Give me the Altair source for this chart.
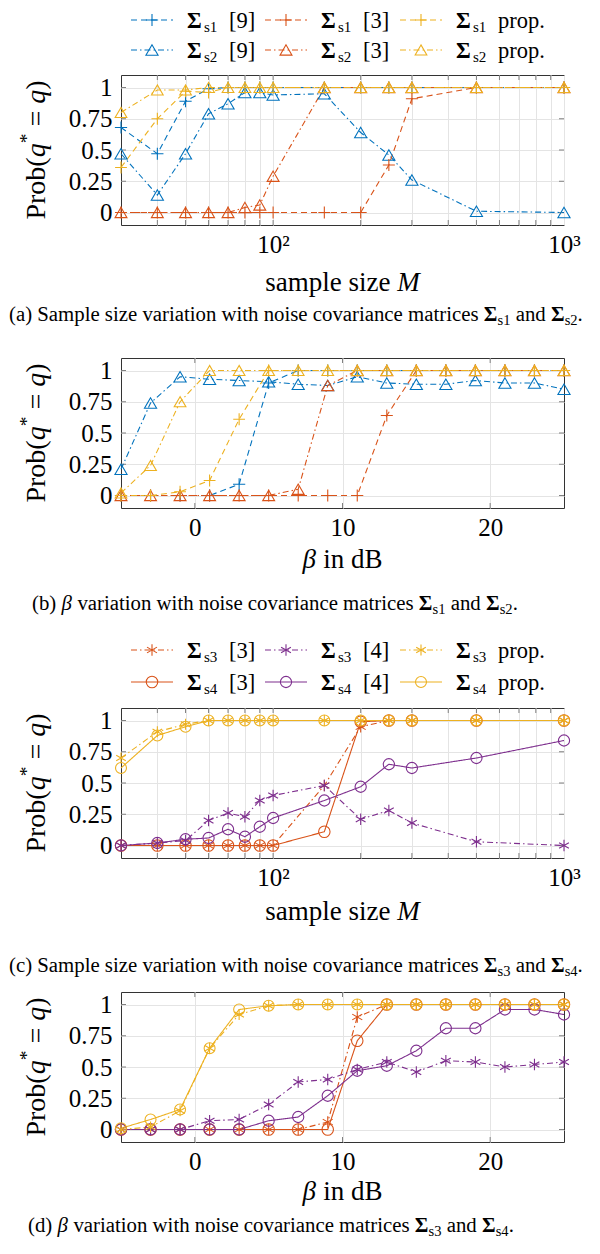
import altair as alt
import pandas as pd

# ---------------- data ----------------
M = [30, 40, 50, 60, 70, 80, 90, 100, 150, 200, 250, 300, 500, 1000]
BETA = [-5, -3, -1, 1, 3, 5, 7, 9, 11, 13, 15, 17, 19, 21, 23, 25]

A_S1_9 = [0.68, 0.47, 0.89, 0.99, 1, 1, 1, 1, 1, 1, 1, 1, 1, 1]
A_S2_9 = [0.47, 0.14, 0.47, 0.79, 0.87, 0.96, 0.96, 0.94, 0.95, 0.64, 0.46, 0.26, 0.01, 0.0]
A_S1_3 = [0, 0, 0, 0, 0, 0, 0, 0, 0, 0, 0.38, 0.91, 1, 1]
A_S2_3 = [0, 0, 0, 0, 0, 0.04, 0.06, 0.29, 1, 1, 1, 1, 1, 1]
A_S1_P = [0.36, 0.75, 0.97, 0.96, 1, 1, 1, 1, 1, 1, 1, 1, 1, 1]
A_S2_P = [0.80, 0.98, 0.98, 1, 1, 1, 1, 1, 1, 1, 1, 1, 1, 1]

B_S1_9 = [0, 0, 0, 0, 0.09, 0.90, 1, 1, 1, 1, 1, 1, 1, 1, 1, 1]
B_S2_9 = [0.21, 0.74, 0.95, 0.93, 0.92, 0.91, 0.89, 0.88, 0.95, 0.90, 0.89, 0.89, 0.92, 0.90, 0.90, 0.85]
B_S1_3 = [0, 0, 0, 0, 0, 0, 0, 0, 0, 0.64, 1, 1, 1, 1, 1, 1]
B_S2_3 = [0, 0, 0, 0, 0, 0, 0.05, 0.88, 1, 1, 1, 1, 1, 1, 1, 1]
B_S1_P = [0.0, 0.0, 0.03, 0.12, 0.61, 1, 1, 1, 1, 1, 1, 1, 1, 1, 1, 1]
B_S2_P = [0.02, 0.24, 0.75, 1, 1, 1, 1, 1, 1, 1, 1, 1, 1, 1, 1, 1]

C_S3_3 = [0, 0, 0, 0, 0, 0, 0, 0, 0.48, 0.95, 1, 1, 1, 1]
C_S4_3 = [0, 0, 0, 0, 0, 0, 0, 0, 0.11, 0.99, 1, 1, 1, 1]
C_S3_4 = [0, 0.02, 0.04, 0.20, 0.26, 0.23, 0.36, 0.40, 0.48, 0.21, 0.28, 0.18, 0.03, 0.0]
C_S4_4 = [0, 0.02, 0.05, 0.06, 0.13, 0.07, 0.15, 0.22, 0.36, 0.47, 0.65, 0.62, 0.70, 0.84]
C_S3_P = [0.70, 0.91, 0.97, 1, 1, 1, 1, 1, 1, 1, 1, 1, 1, 1]
C_S4_P = [0.62, 0.88, 0.95, 1, 1, 1, 1, 1, 1, 1, 1, 1, 1, 1]

D_S3_3 = [0, 0, 0, 0, 0, 0, 0, 0.06, 0.90, 1, 1, 1, 1, 1, 1, 1]
D_S4_3 = [0, 0, 0, 0, 0, 0, 0, 0, 0.71, 1, 1, 1, 1, 1, 1, 1]
D_S3_4 = [0, 0, 0, 0.07, 0.08, 0.20, 0.38, 0.40, 0.48, 0.54, 0.46, 0.55, 0.54, 0.50, 0.52, 0.54]
D_S4_4 = [0, 0, 0, 0, 0, 0.07, 0.10, 0.27, 0.47, 0.51, 0.63, 0.81, 0.81, 0.96, 0.96, 0.92]
D_S3_P = [0.0, 0.02, 0.15, 0.65, 0.92, 0.99, 1, 1, 1, 1, 1, 1, 1, 1, 1, 1]
D_S4_P = [0.01, 0.08, 0.16, 0.65, 0.96, 0.99, 1, 1, 1, 1, 1, 1, 1, 1, 1, 1]

Y_TICKS = [0, 0.25, 0.5, 0.75, 1]
LOG_GRID = [40, 50, 60, 70, 80, 90, 100, 200, 300, 400, 500, 600, 700, 800, 900, 1000]
LIN_GRID = [0, 10, 20]

# ---------------- styles ----------------
FONT = "Liberation Serif"
BLUE, RED, YEL, PUR = "#0072BD", "#D95319", "#EDB120", "#7E2F8E"
PLUS = "M-1,0L1,0M0,-1L0,1"
AST = "M0,-1L0,1M-0.866,-0.5L0.866,0.5M-0.866,0.5L0.866,-0.5"
TRI = "triangle-up"
CIRC = "circle"
DASH = [6, 4]
DDOT = [6, 3, 1.5, 3]
SOLID = [1, 0]

IDS = ["s1_9", "s2_9", "s1_3", "s2_3", "s1_p", "s2_p",
       "s3_3", "s4_3", "s3_4", "s4_4", "s3_p", "s4_p"]
COLS = [BLUE, BLUE, RED, RED, YEL, YEL, RED, RED, PUR, PUR, YEL, YEL]
DASHES = [DASH, DDOT, DASH, DDOT, DASH, DDOT, DDOT, SOLID, DDOT, SOLID, DDOT, SOLID]
SHAPES = [PLUS, TRI, PLUS, TRI, PLUS, TRI, AST, CIRC, AST, CIRC, AST, CIRC]
SIZES = [150, 120, 150, 120, 150, 120, 140, 200, 140, 200, 140, 200]

C_ENC = alt.Color("sid:N", scale=alt.Scale(domain=IDS, range=COLS), legend=None)
D_ENC = alt.StrokeDash("sid:N", scale=alt.Scale(domain=IDS, range=DASHES), legend=None)
S_ENC = alt.Shape("sid:N", scale=alt.Scale(domain=IDS, range=SHAPES), legend=None)
Z_ENC = alt.Size("sid:N", scale=alt.Scale(domain=IDS, range=SIZES), legend=None)

W, H = 443, 150
LEFT, RIGHT = -112, 466

# Times-metric widths (per 1000 em) for placing rich-text runs
TNR = {' ': 250, '(': 333, ')': 333, '[': 333, ']': 333, '.': 250, '=': 564, '*': 500,
       'a': 444, 'b': 500, 'c': 444, 'd': 500, 'e': 444, 'f': 333, 'g': 500, 'h': 500,
       'i': 278, 'k': 500, 'l': 278, 'm': 778, 'n': 500, 'o': 500, 'p': 500, 'q': 500,
       'r': 333, 's': 389, 't': 278, 'u': 500, 'v': 500, 'w': 722, 'x': 500, 'y': 500,
       'z': 444, 'B': 667, 'M': 889, 'P': 556, 'S': 556, 'Σ': 600, 'β': 500}
ITAL = {'M': 833, 'q': 500, 'β': 520}


def tw(txt, st):
    tot = 0
    for ch in txt:
        if st == "b" and ch == "Σ":
            tot += 660
        elif st == "i":
            tot += ITAL.get(ch, TNR.get(ch, 500))
        else:
            tot += TNR.get(ch, 500)
    return tot / 1000.0


def run(segs, x0, base, fs):
    out, x = [], x0
    for txt, st, rs, dy in segs:
        f = fs * rs
        lead = len(txt) - len(txt.lstrip(" "))
        out.append(dict(px=x + lead * 0.25 * f, py=base + dy * fs, txt=txt.strip(" "), fs=f, st=st))
        x += tw(txt, st) * f
    return out


def run_width(segs, fs):
    return sum(tw(t, st) * fs * rs for t, st, rs, dy in segs)


def sig(k):
    return [("Σ", "b", 1, 0), ("s%d" % k, "n", 0.7, 0.2)]


CAP_FS = 20.8
CAP_A = [("(a) Sample size variation with noise covariance matrices ", "n", 1, 0)] + sig(1) + \
        [(" and ", "n", 1, 0)] + sig(2) + [(".", "n", 1, 0)]
CAP_B = [("(b) ", "n", 1, 0), ("β", "i", 1, 0),
         (" variation with noise covariance matrices ", "n", 1, 0)] + sig(1) + \
        [(" and ", "n", 1, 0)] + sig(2) + [(".", "n", 1, 0)]
CAP_C = [("(c) Sample size variation with noise covariance matrices ", "n", 1, 0)] + sig(3) + \
        [(" and ", "n", 1, 0)] + sig(4) + [(".", "n", 1, 0)]
CAP_D = [("(d) ", "n", 1, 0), ("β", "i", 1, 0),
         (" variation with noise covariance matrices ", "n", 1, 0)] + sig(3) + \
        [(" and ", "n", 1, 0)] + sig(4) + [(".", "n", 1, 0)]

XT_LOG = [("sample size ", "n", 1, 0), ("M", "i", 1, 0)]
XT_LIN = [("β", "i", 1, 0), (" in dB", "n", 1, 0)]
YT = [("Prob(", "n", 1, 0), ("q", "i", 1, 0), ("*", "n", 0.7, -0.42), (" = ", "n", 1, 0),
      ("q", "i", 1, 0), (")", "n", 1, 0)]
XT_FS = 27
YT_FS = 28

LEG_FS = 22.5
LEG_X = [10, 144, 279]
LEG_AB = [[("s1_9", 1, "[9]"), ("s1_3", 1, "[3]"), ("s1_p", 1, "prop.")],
          [("s2_9", 2, "[9]"), ("s2_3", 2, "[3]"), ("s2_p", 2, "prop.")]]
LEG_CD = [[("s3_3", 3, "[3]"), ("s3_4", 3, "[4]"), ("s3_p", 3, "prop.")],
          [("s4_3", 4, "[3]"), ("s4_4", 4, "[4]"), ("s4_p", 4, "prop.")]]


def panel(xv, series, log, legend, leg_rows, cap, cap_x0, cap_base, xt_base, top, bottom):
    df = pd.DataFrame([dict(x=x, y=y, sid=sid) for sid, ys in series for x, y in zip(xv, ys)])
    if log:
        xs = alt.Scale(type="log", domain=[30, 1000], nice=False)
        xax = alt.Axis(values=LOG_GRID, title=None, labelFlush=False, labelOverlap=False,
                       labelExpr="datum.value == 100 ? '10²' : (datum.value == 1000 ? '10³' : '')")
        xt_vals = LOG_GRID[:-1]
        xt = XT_LOG
    else:
        xs = alt.Scale(domain=[-5, 25], nice=False, zero=False)
        xax = alt.Axis(values=LIN_GRID, title=None, labelFlush=False)
        xt_vals = LIN_GRID
        xt = XT_LIN
    ys = alt.Scale(domain=[-0.1, 1.1], nice=False, zero=False)
    yax = alt.Axis(values=Y_TICKS, title=None, labelExpr="'' + datum.value")
    X = alt.X("x:Q", scale=xs, axis=xax)
    Y = alt.Y("y:Q", scale=ys, axis=yax)

    xtk = pd.DataFrame({"x": xt_vals})
    ytk = pd.DataFrame({"y": Y_TICKS})
    tick_col = "#808080"
    tk = [
        alt.Chart(xtk).mark_rule(color=tick_col, strokeWidth=1).encode(x=X, y=alt.value(H), y2=alt.value(H - 5)),
        alt.Chart(xtk).mark_rule(color=tick_col, strokeWidth=1).encode(x=X, y=alt.value(0), y2=alt.value(5)),
        alt.Chart(ytk).mark_rule(color=tick_col, strokeWidth=1).encode(y=Y, x=alt.value(0), x2=alt.value(5)),
        alt.Chart(ytk).mark_rule(color=tick_col, strokeWidth=1).encode(y=Y, x=alt.value(W), x2=alt.value(W - 5)),
    ]
    lines = alt.Chart(df).mark_line(strokeWidth=1.1).encode(
        x=X, y=Y, color=C_ENC, strokeDash=D_ENC, detail="sid:N")
    pts = alt.Chart(df).mark_point(filled=False, strokeWidth=1.1, opacity=1).encode(
        x=X, y=Y, color=C_ENC, shape=S_ENC, size=Z_ENC)
    data = alt.layer(*tk, lines, pts)

    # ---- decorations: legend, titles, caption (pixel positions) ----
    texts = []
    lrules, lpts = [], []
    if legend is not None:
        for r, row in enumerate(legend):
            cy = leg_rows[r]
            base = cy + 7.5
            for c, (sid, k, lab) in enumerate(row):
                sx = LEG_X[c]
                lrules.append(dict(px=sx, px2=sx + 42, py=cy, sid=sid))
                lpts.append(dict(px=sx + 21, py=cy, sid=sid))
                texts += run([("Σ", "b", 1, 0)], sx + 56, base, LEG_FS)
                texts += run([("s%d" % k, "n", 0.67, 0.18)], sx + 73, base, LEG_FS)
                texts += run([(lab, "n", 1, 0)], sx + 98, base, LEG_FS)
    texts += run(cap, cap_x0, cap_base, CAP_FS)
    xw = run_width(xt, XT_FS)
    texts += run(xt, W / 2 - xw / 2, xt_base, XT_FS)

    # rotated y title (reads bottom to top)
    yw = run_width(YT, YT_FS)
    rot, t = [], 0.0
    ybase_x = -76
    for txt, st, rs, dy in YT:
        f = YT_FS * rs
        lead = len(txt) - len(txt.lstrip(" "))
        rot.append(dict(px=ybase_x + dy * YT_FS, py=H / 2 + yw / 2 - t - lead * 0.25 * f,
                        txt=txt.strip(" "), fs=f, st=st))
        t += tw(txt, st) * f

    tdf = pd.DataFrame(texts)
    rdf = pd.DataFrame(rot)
    PX = alt.X("px:Q", scale=None, axis=None)
    PY = alt.Y("py:Q", scale=None, axis=None)
    FS = alt.Size("fs:Q", scale=None, legend=None)

    def tl(d, **kw):
        return alt.Chart(d).mark_text(font=FONT, align="left", baseline="alphabetic",
                                      color="black", **kw).encode(
            x=PX, y=PY, text="txt:N", size=FS)

    deco = [
        alt.Chart(pd.DataFrame([dict(px=LEFT, px2=RIGHT, py=top), dict(px=LEFT, px2=RIGHT, py=bottom)]))
        .mark_rule(strokeOpacity=0, strokeWidth=1).encode(x=PX, x2="px2:Q", y=PY),
        tl(tdf[tdf.st == "n"]),
        tl(tdf[tdf.st == "b"], fontWeight="bold"),
        tl(tdf[tdf.st == "i"], fontStyle="italic"),
        tl(rdf[rdf.st == "n"], angle=270),
        tl(rdf[rdf.st == "i"], angle=270, fontStyle="italic"),
    ]
    if lrules:
        deco.insert(1, alt.Chart(pd.DataFrame(lrules)).mark_rule(strokeWidth=1.1).encode(
            x=PX, x2="px2:Q", y=PY, color=C_ENC, strokeDash=D_ENC))
        deco.insert(2, alt.Chart(pd.DataFrame(lpts)).mark_point(filled=False, strokeWidth=1.1, opacity=1).encode(
            x=PX, y=PY, color=C_ENC, shape=S_ENC, size=Z_ENC))
    return alt.layer(data, alt.layer(*deco)).resolve_scale(x="independent", y="independent").properties(
        width=W, height=H)


pa = panel(M, [("s1_9", A_S1_9), ("s2_9", A_S2_9), ("s1_3", A_S1_3), ("s2_3", A_S2_3),
               ("s1_p", A_S1_P), ("s2_p", A_S2_P)], True, LEG_AB, [-55, -25],
           CAP_A, -112, 246, 216, -66, 263.5)
pb = panel(BETA, [("s1_9", B_S1_9), ("s2_9", B_S2_9), ("s1_3", B_S1_3), ("s2_3", B_S2_3),
                  ("s1_p", B_S1_P), ("s2_p", B_S2_P)], False, None, None,
           CAP_B, -89, 252, 210, -18, 267.5)
pc = panel(M, [("s3_3", C_S3_3), ("s4_3", C_S4_3), ("s3_4", C_S3_4), ("s4_4", C_S4_4),
               ("s3_p", C_S3_P), ("s4_p", C_S4_P)], True, LEG_CD, [-58, -26],
           CAP_C, -112, 264, 212, -81, 270.5)
pd_ = panel(BETA, [("s3_3", D_S3_3), ("s4_3", D_S4_3), ("s3_4", D_S3_4), ("s4_4", D_S4_4),
                   ("s3_p", D_S3_P), ("s4_p", D_S4_P)], False, None, None,
            CAP_D, -93, 240, 208, -11, 255)

chart = alt.vconcat(pa, pb, pc, pd_, spacing=0).properties(padding=0).configure_view(
    stroke="#333333", strokeWidth=1
).configure_axis(
    labelFont=FONT, labelFontSize=25, labelColor="black", ticks=False, domain=False,
    grid=True, gridColor="#e4e4e4", gridWidth=1, labelPadding=7
).configure_axisY(labelPadding=9)

chart.save("out.html", embed_options={"renderer": "svg", "actions": False})
